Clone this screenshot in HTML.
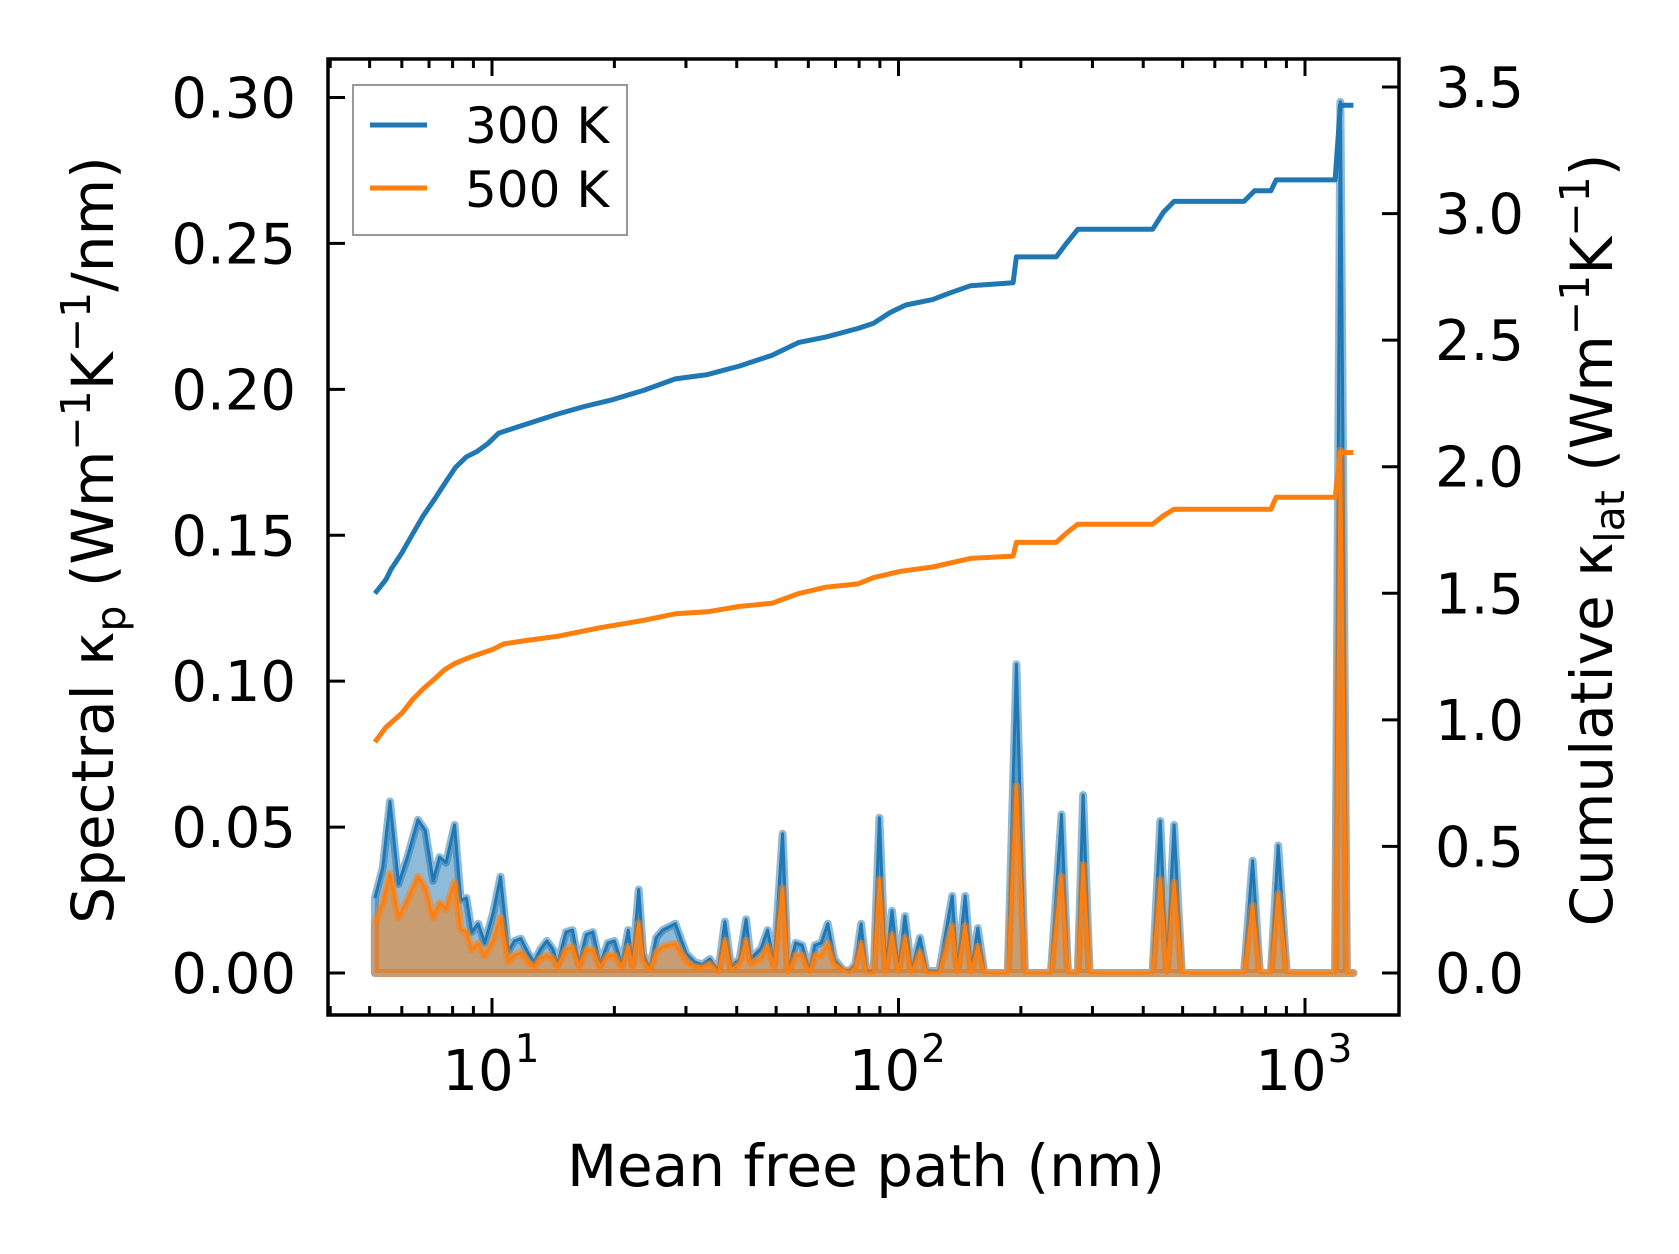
<!DOCTYPE html>
<html><head><meta charset="utf-8"><style>
html,body{margin:0;padding:0;background:#fff;}
svg{display:block;font-family:"DejaVu Sans","Liberation Sans",sans-serif;}
</style></head><body>
<svg id="chart" width="1679" height="1254" viewBox="0 0 1679 1254" xmlns="http://www.w3.org/2000/svg">
<rect x="0" y="0" width="1679" height="1254" fill="#fff"/>
<g id="marks"></g>
<g id="axes"></g>
</svg>
<script>
// Spectral series (left axis), x as log10(mean free path / nm)
const specLogX = [.712,.731,.749,.770,.792,.818,.836,.855,.871,.887,.908,.923,.937,.950,.966,.982,1.003,1.021,1.040,1.055,1.071,1.087,1.103,1.119,1.135,1.150,1.161,1.182,1.198,1.214,1.232,1.248,1.266,1.285,1.301,1.319,1.335,1.346,1.361,1.372,1.388,1.404,1.420,1.451,1.478,1.499,1.517,1.536,1.557,1.573,1.588,1.609,1.625,1.636,1.662,1.678,1.694,1.715,1.728,1.747,1.763,1.781,1.794,1.810,1.826,1.842,1.863,1.879,1.894,1.908,1.921,1.939,1.953,1.968,1.984,2.000,2.016,2.032,2.053,2.069,2.100,2.132,2.145,2.164,2.179,2.195,2.211,2.269,2.290,2.311,2.375,2.401,2.417,2.441,2.454,2.470,2.625,2.644,2.660,2.678,2.697,2.850,2.871,2.889,2.916,2.934,2.955,3.074,3.087,3.103,3.119];
const spec300 = [.0257,.0360,.0588,.0305,.0397,.0525,.0488,.0316,.0397,.0378,.0507,.0250,.0257,.0140,.0169,.0103,.0206,.0330,.0073,.0110,.0118,.0073,.0037,.0081,.0110,.0081,.0029,.0140,.0147,.0029,.0132,.0140,.0029,.0103,.0110,.0029,.0147,.0029,.0286,.0066,.0011,.0121,.0147,.0169,.0066,.0037,.0029,.0048,.0007,.0176,.0022,.0048,.0184,.0048,.0084,.0147,.0029,.0477,.0007,.0103,.0095,.0007,.0095,.0103,.0169,.0048,.0011,.0007,.0029,.0169,.0007,.0007,.0532,.0007,.0213,.0007,.0195,.0007,.0121,.0007,.0007,.0264,.0007,.0264,.0007,.0154,0,0,.1058,0,0,.0543,0,0,.0610,0,0,.0521,0,.0507,0,0,.0385,0,0,.0437,0,0,.2985,0,0];
const spec500 = [.017,.024,.034,.019,.025,.033,.029,.019,.024,.022,.031,.015,.014,.008,.010,.006,.011,.019,.004,.006,.007,.004,.002,.005,.006,.005,.002,.008,.009,.002,.008,.008,.002,.006,.006,.002,.009,.002,.017,.004,.001,.007,.009,.010,.004,.002,.002,.003,.000,.011,.001,.003,.011,.003,.005,.009,.002,.029,.000,.006,.006,.000,.006,.006,.010,.003,.001,.000,.002,.010,.000,.000,.032,.000,.013,.000,.012,.000,.007,.000,.000,.016,.000,.016,.000,.009,0,0,.064,0,0,.033,0,0,.037,0,0,.032,0,.031,0,0,.023,0,0,.027,0,0,.179,0,0];
// Cumulative series (right axis)
const cum300LogX = [.712,.739,.752,.778,.805,.831,.858,.884,.910,.937,.963,.989,1.016,1.055,1.095,1.161,1.227,1.293,1.372,1.451,1.530,1.609,1.689,1.755,1.821,1.900,1.939,1.979,2.018,2.084,2.124,2.177,2.282,2.290,2.388,2.414,2.441,2.625,2.652,2.678,2.850,2.876,2.916,2.929,3.074,3.087,3.119];
const cum300 = [1.499,1.554,1.596,1.659,1.735,1.807,1.870,1.934,1.997,2.039,2.060,2.090,2.132,2.153,2.174,2.208,2.238,2.263,2.301,2.347,2.364,2.398,2.440,2.491,2.512,2.546,2.567,2.609,2.639,2.660,2.685,2.715,2.727,2.829,2.829,2.884,2.938,2.938,3.006,3.048,3.048,3.090,3.090,3.133,3.133,3.428,3.428];
const cum500LogX = [.712,.739,.778,.805,.831,.858,.884,.910,.950,1.003,1.029,1.082,1.161,1.266,1.372,1.451,1.530,1.609,1.689,1.755,1.821,1.900,1.939,2.005,2.084,2.177,2.282,2.290,2.388,2.414,2.441,2.625,2.652,2.678,2.916,2.929,3.074,3.087,3.119];
const cum500 = [.912,.971,1.026,1.081,1.123,1.161,1.199,1.224,1.250,1.279,1.300,1.313,1.330,1.364,1.393,1.419,1.427,1.448,1.461,1.499,1.524,1.537,1.562,1.587,1.604,1.638,1.647,1.701,1.701,1.739,1.773,1.773,1.807,1.832,1.832,1.879,1.879,2.056,2.056];
const leftTicks = [0,0.05,0.10,0.15,0.20,0.25,0.30];
const leftTickLabels = ["0.00","0.05","0.10","0.15","0.20","0.25","0.30"];
const rightTicks = [0,0.5,1,1.5,2,2.5,3,3.5];
const rightTickLabels = ["0.0","0.5","1.0","1.5","2.0","2.5","3.0","3.5"];
const xDecades = [1,2,3];

const NS = "http://www.w3.org/2000/svg";
const L = 328, R = 1399, T = 59, B = 1015;
const X = lg => 492 + (lg - 1) * 406.5;
const YL = v => 973 - v / 0.30 * 875.5;
const YR = v => 973 - v / 3.5 * 886;
const C1 = "#1f77b4", C2 = "#ff7f0e";
const marks = document.getElementById('marks');
const axes = document.getElementById('axes');
function mk(tag, attrs, parent){const e=document.createElementNS(NS,tag);for(const k in attrs)e.setAttribute(k,attrs[k]);(parent||marks).appendChild(e);return e;}

function spectral(vals, color, name){
  let line = specLogX.map((x,i)=>X(x).toFixed(1)+','+YL(vals[i]).toFixed(1)).join(' L');
  let area = 'M'+line+' L'+X(specLogX[specLogX.length-1]).toFixed(1)+','+YL(0)+' L'+X(specLogX[0]).toFixed(1)+','+YL(0)+' Z';
  const a = mk('path',{d:area,fill:color,'fill-opacity':0.5,stroke:color,'stroke-opacity':0.5,'stroke-width':8,'stroke-linejoin':'round'});
  
  
  const l = mk('path',{d:'M'+line,fill:'none',stroke:color,'stroke-width':3,'stroke-linejoin':'round'});
  
  
}
spectral(spec300, C1, 'spectral-300k');
spectral(spec500, C2, 'spectral-500k');

function cumul(xs, vals, color, name){
  const d = 'M'+xs.map((x,i)=>X(x).toFixed(1)+','+YR(vals[i]).toFixed(1)).join(' L');
  const p = mk('path',{d:d,fill:'none',stroke:color,'stroke-width':5,'stroke-linejoin':'round'});
  
  
}
cumul(cum300LogX, cum300, C1, 'cumulative-300k');
cumul(cum500LogX, cum500, C2, 'cumulative-500k');

const fr = mk('rect',{x:L,y:T,width:R-L,height:B-T,fill:'none',stroke:'#000','stroke-width':3.5},axes);



leftTicks.forEach((v,i)=>{
  const y=YL(v);
  mk('line',{x1:L,x2:L+17,y1:y,y2:y,stroke:'#000','stroke-width':3},axes);
  const t=mk('text',{x:296,y:y+20,'text-anchor':'end','font-size':56,fill:'#000'},axes);
  t.textContent=leftTickLabels[i];
  
  
});
rightTicks.forEach((v,i)=>{
  const y=YR(v);
  mk('line',{x1:R-17,x2:R,y1:y,y2:y,stroke:'#000','stroke-width':3},axes);
  const t=mk('text',{x:1435,y:y+20,'text-anchor':'start','font-size':56,fill:'#000'},axes);
  t.textContent=rightTickLabels[i];
  
  
});
for(let d=0; d<=3; d++){
  for(let m=1;m<=9;m++){
    const lg = d + Math.log10(m);
    const x = X(lg);
    if(x<L+2||x>R-2) continue;
    const len = m===1?17:9;
    mk('line',{x1:x,x2:x,y1:B,y2:B-len,stroke:'#000','stroke-width':3},axes);
    mk('line',{x1:x,x2:x,y1:T,y2:T+len,stroke:'#000','stroke-width':3},axes);
  }
}
xDecades.forEach(d=>{
  const x=X(d);
  const t=mk('text',{x:x-14,y:1090,'text-anchor':'middle','font-size':56,fill:'#000'},axes);
  t.textContent='10';
  
  
  const s=mk('text',{x:x+35,y:1062,'text-anchor':'middle','font-size':39,fill:'#000'},axes);
  s.textContent=String(d);
  
  
});
</script>
<div style="position:absolute;left:0;top:0;width:1679px;height:1254px;pointer-events:none;">
<svg width="1679" height="1254" style="font-family:'DejaVu Sans','Liberation Sans',sans-serif;">
  <text x="866" y="1186" text-anchor="middle" font-size="58" fill="#000">Mean free path (nm)</text>
  <text transform="translate(113,540) rotate(-90)" text-anchor="middle" font-size="58" fill="#000">Spectral κ<tspan font-size="41" dy="12">p</tspan><tspan dy="-12"> (Wm</tspan><tspan font-size="41" dy="-23">−1</tspan><tspan dy="23">K</tspan><tspan font-size="41" dy="-23">−1</tspan><tspan dy="23">/nm)</tspan></text>
  <text transform="translate(1612,540) rotate(-90)" text-anchor="middle" font-size="58" fill="#000">Cumulative κ<tspan font-size="41" dy="12">lat</tspan><tspan dy="-12"> (Wm</tspan><tspan font-size="41" dy="-23">−1</tspan><tspan dy="23">K</tspan><tspan font-size="41" dy="-23">−1</tspan><tspan dy="23">)</tspan></text>
  <g>
    <rect x="353" y="85" width="274" height="150" fill="#fff" fill-opacity="0.85" stroke="#999" stroke-width="2"/>
    <line x1="370" x2="427" y1="125" y2="125" stroke="#1f77b4" stroke-width="5"/>
    <text x="465" y="143" font-size="50" fill="#000">300 K</text>
    <line x1="370" x2="427" y1="188" y2="188" stroke="#ff7f0e" stroke-width="5"/>
    <text x="465" y="207" font-size="50" fill="#000">500 K</text>
  </g>
</svg>
</div>
</body></html>
